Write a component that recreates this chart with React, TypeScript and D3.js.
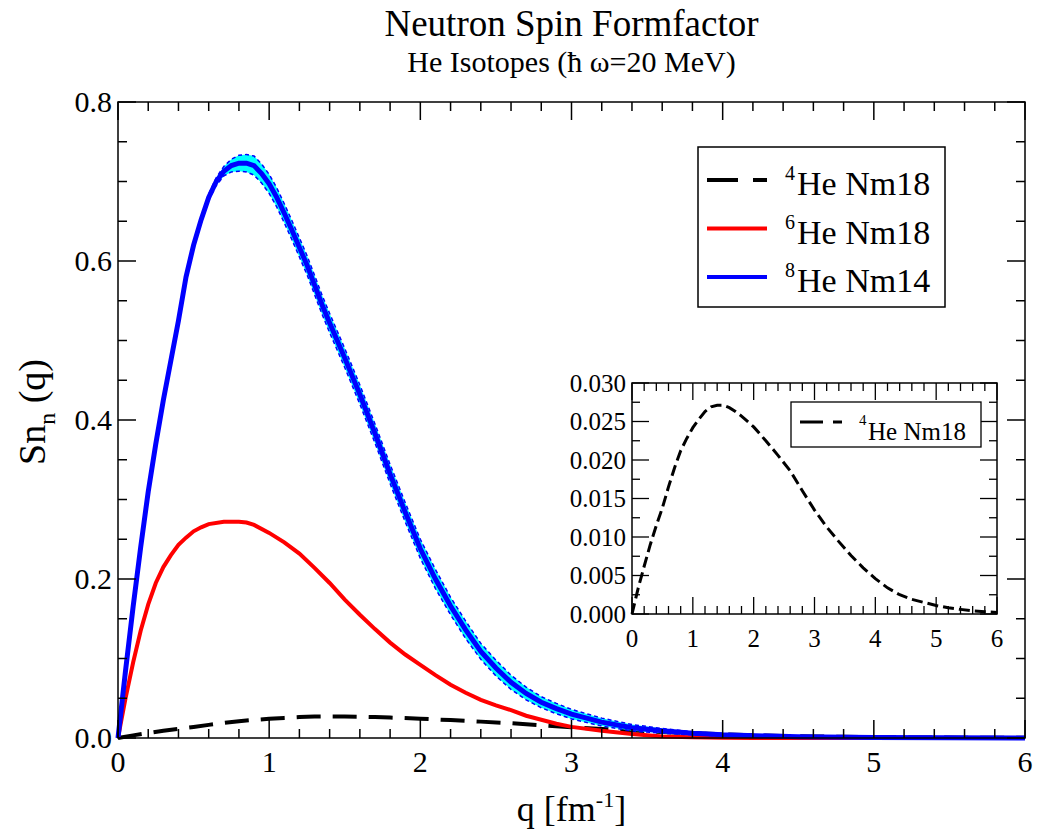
import React from "react";
import * as d3 from "d3";

// ---------- data ----------
const blueQ = [0, 0.05, 0.1, 0.15, 0.2, 0.25, 0.3, 0.35, 0.4, 0.45, 0.5, 0.55, 0.6, 0.65, 0.7, 0.75, 0.8, 0.85, 0.9, 0.95, 1.0, 1.05, 1.1, 1.15, 1.2, 1.25, 1.3, 1.35, 1.4, 1.5, 1.6, 1.7, 1.8, 1.9, 2.0, 2.1, 2.2, 2.3, 2.4, 2.5, 2.6, 2.7, 2.8, 2.9, 3.0, 3.2, 3.4, 3.6, 3.8, 4.0, 4.5, 5.0, 5.5, 6.0];
const blueV = [0, 0.085, 0.165, 0.24, 0.31, 0.37, 0.425, 0.475, 0.525, 0.58, 0.62, 0.652, 0.68, 0.7, 0.713, 0.72, 0.723, 0.723, 0.72, 0.71, 0.697, 0.68, 0.66, 0.639, 0.617, 0.595, 0.57, 0.545, 0.522, 0.478, 0.432, 0.383, 0.332, 0.284, 0.238, 0.2, 0.166, 0.136, 0.109, 0.088, 0.07, 0.056, 0.045, 0.037, 0.03, 0.02, 0.013, 0.009, 0.006, 0.004, 0.0015, 0.0005, 0.0002, 0];
const blueBand = [0, 0.001, 0.002, 0.002, 0.002, 0.002, 0.003, 0.003, 0.003, 0.003, 0.003, 0.004, 0.004, 0.005, 0.006, 0.008, 0.01, 0.011, 0.012, 0.012, 0.012, 0.012, 0.012, 0.012, 0.012, 0.012, 0.012, 0.012, 0.012, 0.012, 0.012, 0.012, 0.012, 0.012, 0.012, 0.012, 0.011, 0.011, 0.01, 0.01, 0.009, 0.008, 0.007, 0.0065, 0.006, 0.005, 0.004, 0.003, 0.002, 0.0015, 0.0008, 0.0004, 0.0002, 0];

const redQ = [0, 0.05, 0.1, 0.15, 0.2, 0.25, 0.3, 0.35, 0.4, 0.45, 0.5, 0.55, 0.6, 0.7, 0.8, 0.85, 0.9, 1.0, 1.1, 1.2, 1.3, 1.4, 1.5, 1.6, 1.7, 1.8, 1.9, 2.0, 2.1, 2.2, 2.3, 2.4, 2.5, 2.6, 2.7, 2.8, 2.9, 3.0, 3.2, 3.4, 3.6, 3.8, 4.0, 4.2, 5.0, 6.0];
const redV = [0, 0.05, 0.095, 0.135, 0.168, 0.195, 0.215, 0.23, 0.243, 0.252, 0.26, 0.265, 0.269, 0.272, 0.272, 0.271, 0.268, 0.258, 0.246, 0.232, 0.214, 0.195, 0.174, 0.155, 0.137, 0.12, 0.105, 0.092, 0.079, 0.067, 0.057, 0.048, 0.041, 0.035, 0.028, 0.023, 0.018, 0.014, 0.009, 0.005, 0.002, 0.001, 0.0003, 0, 0, 0];

const blackQ = [0, 0.1, 0.2, 0.3, 0.4, 0.5, 0.6, 0.7, 0.8, 0.9, 1.0, 1.1, 1.2, 1.3, 1.4, 1.5, 1.6, 1.7, 1.8, 2.0, 2.2, 2.4, 2.6, 2.8, 3.0, 3.2, 3.4, 3.6, 3.8, 4.0, 4.2, 4.4, 4.6, 4.8, 5.0, 5.2, 5.4, 5.6, 5.8, 6.0];
const blackV = [0, 0.0033, 0.0062, 0.009, 0.0115, 0.0138, 0.0165, 0.019, 0.0212, 0.0228, 0.0242, 0.0253, 0.0263, 0.0269, 0.0271, 0.0271, 0.0268, 0.0263, 0.0257, 0.0243, 0.0225, 0.0206, 0.0186, 0.016, 0.0135, 0.0113, 0.0094, 0.0076, 0.006, 0.0046, 0.0034, 0.0025, 0.0019, 0.0015, 0.0011, 0.0008, 0.0006, 0.0004, 0.0003, 0.0002];

const xTickLabels = ["0", "1", "2", "3", "4", "5", "6"];
const yTickLabels = ["0.0", "0.2", "0.4", "0.6", "0.8"];
const insetYTickLabels = ["0.000", "0.005", "0.010", "0.015", "0.020", "0.025", "0.030"];

const legendLabels = [
  { sup: "4", text: "He Nm18", color: "#000000", dash: "31,15" },
  { sup: "6", text: "He Nm18", color: "#ff0000", dash: null },
  { sup: "8", text: "He Nm14", color: "#0000ff", dash: null },
];

const FONT = "Liberation Serif, Times New Roman, serif";

type P = [number, number];
const zip = (q: number[], v: number[]): P[] => q.map((d, i) => [d, v[i]]);

export default function App() {
  const W = 1045, H = 833;
  // main plot
  const L = 118, R = 1025, T = 102, B = 738;
  const x = d3.scaleLinear().domain([0, 6]).range([L, R]);
  const y = d3.scaleLinear().domain([0, 0.8]).range([B, T]);
  // inset
  const iL = 632, iR = 997, iT = 383, iB = 614;
  const ix = d3.scaleLinear().domain([0, 6]).range([iL, iR]);
  const iy = d3.scaleLinear().domain([0, 0.03]).range([iB, iT]);

  const line = d3.line<P>().x((d) => x(d[0])).y((d) => y(d[1]));
  const iline = d3.line<P>().x((d) => ix(d[0])).y((d) => iy(d[1]));
  const bandData = blueQ.map((q, i) => ({ q, lo: blueV[i] - blueBand[i], hi: blueV[i] + blueBand[i] }));
  const area = d3
    .area<{ q: number; lo: number; hi: number }>()
    .x((d) => x(d.q))
    .y0((d) => y(Math.max(0, d.lo)))
    .y1((d) => y(d.hi));
  const upper = d3.line<{ q: number; lo: number; hi: number }>().x((d) => x(d.q)).y((d) => y(d.hi));
  const lower = d3.line<{ q: number; lo: number; hi: number }>().x((d) => x(d.q)).y((d) => y(Math.max(0, d.lo)));

  const xMajor = d3.range(0, 7, 1);
  const xMinor = d3.range(0, 6.001, 0.2).filter((v) => Math.abs(v - Math.round(v)) > 1e-6);
  const yMajor = d3.range(0, 0.8001, 0.2);
  const yMinor = d3.range(0, 0.8001, 0.05).filter((v) => Math.abs(v / 0.2 - Math.round(v / 0.2)) > 1e-6);
  const iyMajor = d3.range(0, 0.03001, 0.005);
  const iyMinor = d3.range(0.0025, 0.03, 0.005);

  const MAJ = 18, MIN = 9;
  const iMAJ = 17, iMIN = 8;

  return (
    <svg width={W} height={H} style={{ display: "block", position: "absolute", left: 0, top: 0, background: "#fff", fontFamily: FONT }}>
      <rect x={0} y={0} width={W} height={H} fill="#fff" />
      {/* titles */}
      <text x={(L + R) / 2} y={36} textAnchor="middle" fontSize={37} fill="#000">Neutron Spin Formfactor</text>
      <text x={(L + R) / 2} y={72} textAnchor="middle" fontSize={30} fill="#000">He Isotopes (ħ ω=20 MeV)</text>

      {/* curves */}
      <path d={line(zip(blackQ, blackV)) || ""} fill="none" stroke="#000" strokeWidth={4} strokeDasharray="24,12" />
      <path d={line(zip(redQ, redV)) || ""} fill="none" stroke="#ff0000" strokeWidth={4} />
      <path d={area(bandData) || ""} fill="#00ffff" stroke="none" />
      <path d={upper(bandData) || ""} fill="none" stroke="#0000ff" strokeWidth={1.5} strokeDasharray="4,3" />
      <path d={lower(bandData) || ""} fill="none" stroke="#0000ff" strokeWidth={1.5} strokeDasharray="4,3" />
      <path d={line(zip(blueQ, blueV)) || ""} fill="none" stroke="#0000ff" strokeWidth={5} />

      {/* frame and ticks */}
      <rect x={L} y={T} width={R - L} height={B - T} fill="none" stroke="#000" strokeWidth={1.5} />
      {xMajor.map((v) => (
        <g key={"xM" + v}>
          <line x1={x(v)} x2={x(v)} y1={B} y2={B - MAJ} stroke="#000" strokeWidth={1.5} />
          <line x1={x(v)} x2={x(v)} y1={T} y2={T + MAJ} stroke="#000" strokeWidth={1.5} />
        </g>
      ))}
      {xMinor.map((v) => (
        <g key={"xm" + v}>
          <line x1={x(v)} x2={x(v)} y1={B} y2={B - MIN} stroke="#000" strokeWidth={1.5} />
          <line x1={x(v)} x2={x(v)} y1={T} y2={T + MIN} stroke="#000" strokeWidth={1.5} />
        </g>
      ))}
      {yMajor.map((v) => (
        <g key={"yM" + v}>
          <line x1={L} x2={L + MAJ} y1={y(v)} y2={y(v)} stroke="#000" strokeWidth={1.5} />
          <line x1={R} x2={R - MAJ} y1={y(v)} y2={y(v)} stroke="#000" strokeWidth={1.5} />
        </g>
      ))}
      {yMinor.map((v) => (
        <g key={"ym" + v}>
          <line x1={L} x2={L + MIN} y1={y(v)} y2={y(v)} stroke="#000" strokeWidth={1.5} />
          <line x1={R} x2={R - MIN} y1={y(v)} y2={y(v)} stroke="#000" strokeWidth={1.5} />
        </g>
      ))}
      {xMajor.map((v, i) => (
        <text key={"xl" + v} x={x(v)} y={772} textAnchor="middle" fontSize={30} fill="#000">{xTickLabels[i]}</text>
      ))}
      {yMajor.map((v, i) => (
        <text key={"yl" + v} x={L - 6} y={y(v) + 10} textAnchor="end" fontSize={30} fill="#000">{yTickLabels[i]}</text>
      ))}

      {/* axis labels */}
      <text x={(L + R) / 2} y={821} textAnchor="middle" fontSize={36} fill="#000">
        q [fm<tspan dy={-14} fontSize={22}>-1</tspan><tspan dy={14}>]</tspan>
      </text>
      <text transform={`translate(45,${(T + B) / 2 - 8}) rotate(-90)`} textAnchor="middle" fontSize={38} fill="#000">
        Sn<tspan dy={10} fontSize={24}>n</tspan><tspan dy={-10}> (q)</tspan>
      </text>

      {/* legend */}
      <rect x={698} y={147} width={247} height={160} fill="#fff" stroke="#000" strokeWidth={1.5} />
      {legendLabels.map((d, i) => {
        const ly = 180 + i * 48.5;
        return (
          <g key={"lg" + i}>
            <line x1={707} x2={767} y1={ly} y2={ly} stroke={d.color} strokeWidth={4} strokeDasharray={d.dash || undefined} />
            <text x={785} y={ly} fontSize={20} fill="#000">{d.sup}</text>
            <text x={797} y={ly + 15} fontSize={34} fill="#000">{d.text}</text>
          </g>
        );
      })}

      {/* inset */}
      <rect x={iL} y={iT} width={iR - iL} height={iB - iT} fill="#fff" stroke="none" />
      <path d={iline(zip(blackQ, blackV)) || ""} fill="none" stroke="#000" strokeWidth={3} strokeDasharray="11,5" />
      <rect x={iL} y={iT} width={iR - iL} height={iB - iT} fill="none" stroke="#000" strokeWidth={1.5} />
      {xMajor.map((v) => (
        <g key={"ixM" + v}>
          <line x1={ix(v)} x2={ix(v)} y1={iB} y2={iB - iMAJ} stroke="#000" strokeWidth={1.3} />
          <line x1={ix(v)} x2={ix(v)} y1={iT} y2={iT + iMAJ} stroke="#000" strokeWidth={1.3} />
        </g>
      ))}
      {xMinor.map((v) => (
        <g key={"ixm" + v}>
          <line x1={ix(v)} x2={ix(v)} y1={iB} y2={iB - iMIN} stroke="#000" strokeWidth={1.3} />
          <line x1={ix(v)} x2={ix(v)} y1={iT} y2={iT + iMIN} stroke="#000" strokeWidth={1.3} />
        </g>
      ))}
      {iyMajor.map((v) => (
        <g key={"iyM" + v}>
          <line x1={iL} x2={iL + iMAJ} y1={iy(v)} y2={iy(v)} stroke="#000" strokeWidth={1.3} />
          <line x1={iR} x2={iR - iMAJ} y1={iy(v)} y2={iy(v)} stroke="#000" strokeWidth={1.3} />
        </g>
      ))}
      {iyMinor.map((v) => (
        <g key={"iym" + v}>
          <line x1={iL} x2={iL + iMIN} y1={iy(v)} y2={iy(v)} stroke="#000" strokeWidth={1.3} />
          <line x1={iR} x2={iR - iMIN} y1={iy(v)} y2={iy(v)} stroke="#000" strokeWidth={1.3} />
        </g>
      ))}
      {xMajor.map((v, i) => (
        <text key={"ixl" + v} x={ix(v)} y={647} textAnchor="middle" fontSize={25} fill="#000">{xTickLabels[i]}</text>
      ))}
      {iyMajor.map((v, i) => (
        <text key={"iyl" + v} x={iL - 6} y={iy(v) + 8.5} textAnchor="end" fontSize={25} fill="#000">{insetYTickLabels[i]}</text>
      ))}
      {/* inset legend */}
      <rect x={791} y={402} width={190} height={45} fill="#fff" stroke="#000" strokeWidth={1.3} />
      <line x1={800} x2={842} y1={422} y2={422} stroke="#000" strokeWidth={3} strokeDasharray="23,10" />
      <text x={859} y={425} fontSize={15} fill="#000">4</text>
      <text x={868} y={440} fontSize={25} fill="#000">He Nm18</text>
    </svg>
  );
}
